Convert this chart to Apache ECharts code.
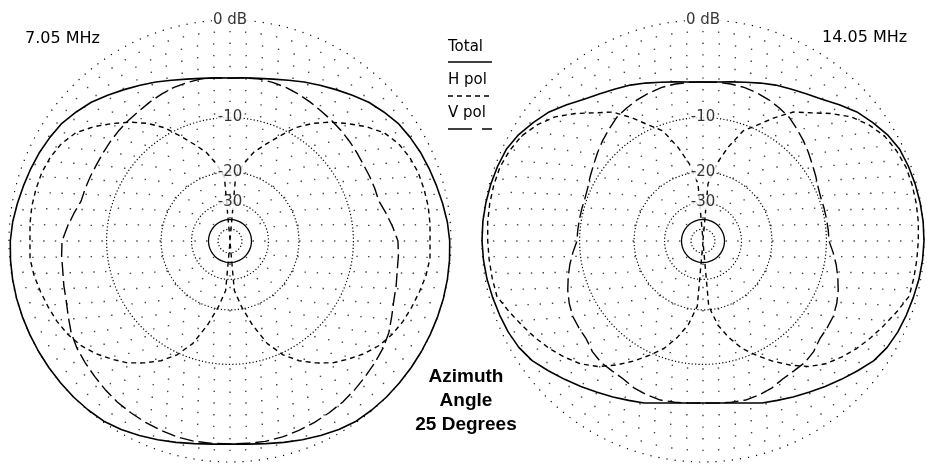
<!DOCTYPE html>
<html><head><meta charset="utf-8">
<script src="https://cdn.jsdelivr.net/npm/echarts@6/dist/echarts.min.js"></script>
<style>html,body{margin:0;padding:0;background:#fff}#c{width:927px;height:465px}</style>
</head><body><div id="c"></div>
<script>
// Azimuth angles (deg, clockwise from top) for the half pattern; pattern is left/right symmetric
const halfAngles = [0,5,10,15,20,25,30,35,40,45,50,55,60,65,70,75,80,85,90,95,100,105,110,115,120,125,130,135,140,145,150,155,160,165,170,175,180];

// 7.05 MHz (dB)
const total705 = [-5.22,-5.15,-5.0,-4.75,-4.4,-3.97,-3.54,-3.07,-2.56,-2.04,-1.65,-1.27,-1.06,-0.87,-0.72,-0.57,-0.4,-0.22,-0.1,-0.05,-0.02,0,0,0,0,0,0,0,-0.03,-0.08,-0.26,-0.51,-0.76,-1.0,-1.23,-1.38,-1.46];
const hpol705  = [-99,-21.2,-17.8,-15.06,-13.2,-11.19,-9.0,-7.41,-6.07,-4.9,-3.73,-2.73,-2.18,-1.87,-1.69,-1.64,-1.61,-1.65,-1.71,-1.65,-1.8,-2.05,-2.29,-2.53,-2.86,-3.32,-3.98,-4.8,-5.63,-6.8,-8.05,-9.7,-12.1,-16.0,-20.5,-25.6,-99];
const vpol705  = [-5.25,-5.15,-5.05,-5.1,-5.17,-5.32,-5.5,-5.68,-5.79,-5.9,-6.02,-6.13,-6.22,-6.22,-6.2,-6.18,-5.7,-5.2,-4.71,-4.6,-4.52,-4.3,-4.07,-3.67,-3.2,-2.88,-2.67,-2.46,-2.23,-2.01,-1.86,-1.7,-1.58,-1.47,-1.42,-1.45,-1.46];

// 14.05 MHz (dB)
const total1405 = [-5.65,-5.58,-5.38,-5.08,-4.7,-4.3,-3.95,-3.55,-3.05,-2.35,-1.64,-1.13,-0.65,-0.31,-0.19,-0.1,-0.04,0,0,-0.05,-0.13,-0.25,-0.36,-0.47,-0.66,-0.99,-1.55,-2.09,-2.59,-3.09,-3.51,-3.92,-4.26,-4.73,-5.07,-5.27,-5.33];
const hpol1405  = [-99,-23.1,-17.8,-14.1,-10.9,-9.4,-7.56,-5.82,-4.77,-3.49,-2.31,-1.5,-0.9,-0.59,-0.39,-0.35,-0.35,-0.38,-0.45,-0.5,-0.55,-0.6,-1.17,-1.74,-2.27,-2.82,-3.45,-4.14,-5.13,-6.49,-8.0,-9.64,-11.3,-13.6,-16.35,-20.9,-99];
const vpol1405  = [-5.65,-5.62,-5.6,-5.65,-5.8,-6.0,-6.28,-6.57,-7.1,-7.6,-8.13,-8.66,-9.09,-9.5,-9.71,-9.72,-9.72,-9.68,-9.64,-9.03,-8.43,-7.89,-7.36,-6.93,-6.6,-6.48,-6.38,-5.93,-5.7,-5.7,-5.61,-5.29,-5.14,-5.05,-5.15,-5.25,-5.33];

// grid rings (dB) and labels
const outerRing = [0];
const dottedRings = [-10,-20,-30,-50];
const solidRings = [-40];
const ringLabels = [[0,'0 dB'],[-10,'-10'],[-20,'-20'],[-30,'-30']];
const freqLabels = ['7.05 MHz','14.05 MHz'];
const legendNames = ['Total','H pol','V pol'];
const noteLines = ['Azimuth','Angle','25 Degrees'];

const PLOT_R = 221;          // px radius of the 0 dB ring
const AXIS_MAX = 1.05;       // a little headroom so the 0 dB trace is not clipped

// ARRL log scale: radius shrinks by 0.89 every 2 dB
function arrl(db){ return Math.pow(0.89, -db/2); }
function pattern(half){
  const out = [];
  for (let i = 0; i < halfAngles.length; i++) out.push([arrl(half[i]), halfAngles[i]]);
  for (let i = halfAngles.length - 2; i >= 0; i--) out.push([arrl(half[i]), 360 - halfAngles[i]]);
  return out;
}
function ring(db){
  const out = [];
  for (let a = 0; a <= 360; a += 1) out.push([arrl(db), a]);
  return out;
}
// background dot grid: equally spaced circles of dots, roughly constant dot spacing along each circle
function dotGrid(){
  const out = [];
  for (let k = 2; k < 19; k++) {
    const r = k / 19;
    const n = Math.max(4, Math.round(2 * Math.PI * r * PLOT_R / 16 / 4) * 4);
    for (let j = 0; j < n; j++) out.push([r, 360 * j / n]);
  }
  return out;
}

const FONT = 'DejaVu Sans';
const series = [];
[0,1].forEach(p => {
  series.push({type:'scatter', coordinateSystem:'polar', polarIndex:p, data:dotGrid(), symbol:'rect', symbolSize:1.4, silent:true, z:1,
    itemStyle:{color:'#111'}});
  outerRing.forEach(db => series.push({type:'line', coordinateSystem:'polar', polarIndex:p, data:ring(db), symbol:'none', silent:true, z:1,
    lineStyle:{color:'#000', width:1.2, type:[1.2,7]}}));
  dottedRings.forEach(db => series.push({type:'line', coordinateSystem:'polar', polarIndex:p, data:ring(db), symbol:'none', silent:true, z:1,
    lineStyle:{color:'#000', width:1.2, type:[1.2,2.2]}}));
  solidRings.forEach(db => series.push({type:'line', coordinateSystem:'polar', polarIndex:p, data:ring(db), symbol:'none', silent:true, z:2,
    lineStyle:{color:'#000', width:1.3, type:'solid'}}));
  series.push({type:'scatter', coordinateSystem:'polar', polarIndex:p, symbolSize:0, z:5, silent:true,
    data: ringLabels.map(r => ({value:[arrl(r[0]), 0], name:r[1]})),
    label:{show:true, position:'inside', formatter: d => d.name, color:'#000', fontFamily:FONT, fontSize:15,
      backgroundColor:'#fff', padding:[0,1]}});
});
const sets = [[total705,hpol705,vpol705],[total1405,hpol1405,vpol1405]];
sets.forEach((s, p) => {
  series.push({type:'line', coordinateSystem:'polar', polarIndex:p, data:pattern(s[0]), symbol:'none', z:4, clip:false,
    lineStyle:{color:'#000', width:1.6, type:'solid'}});
  series.push({type:'line', coordinateSystem:'polar', polarIndex:p, data:pattern(s[1]), symbol:'none', z:4, clip:false,
    lineStyle:{color:'#000', width:1.4, type:[5,4]}});
  series.push({type:'line', coordinateSystem:'polar', polarIndex:p, data:pattern(s[2]), symbol:'none', z:4, clip:false,
    lineStyle:{color:'#000', width:1.4, type:[14,5]}});
});

const angleAxisBase = {type:'value', min:0, max:360, interval:10, startAngle:90, clockwise:true,
  axisLine:{show:false}, axisTick:{show:false}, axisLabel:{show:false}, splitLine:{show:false}};
const radiusAxisBase = {type:'value', min:0, max:AXIS_MAX, axisLine:{show:false}, axisTick:{show:false}, axisLabel:{show:false}, splitLine:{show:false}};

const chart = echarts.init(document.getElementById('c'));
chart.setOption({
  animation:false,
  backgroundColor:'#fff',
  polar:[{center:[230,241], radius:PLOT_R*AXIS_MAX},{center:[703,241], radius:PLOT_R*AXIS_MAX}],
  angleAxis:[Object.assign({polarIndex:0}, angleAxisBase), Object.assign({polarIndex:1}, angleAxisBase)],
  radiusAxis:[Object.assign({polarIndex:0}, radiusAxisBase), Object.assign({polarIndex:1}, radiusAxisBase)],
  series: series,
  graphic:[
    {type:'text', left:25, top:31, style:{text:freqLabels[0], font:'16px "DejaVu Sans"', fill:'#000'}},
    {type:'text', left:822, top:30, style:{text:freqLabels[1], font:'16px "DejaVu Sans"', fill:'#000'}},
    {type:'text', left:448, top:40, style:{text:legendNames[0], font:'15px "DejaVu Sans"', fill:'#000'}},
    {type:'line', shape:{x1:448,y1:62,x2:492,y2:62}, style:{stroke:'#000', lineWidth:1.5}},
    {type:'text', left:448, top:73, style:{text:legendNames[1], font:'15px "DejaVu Sans"', fill:'#000'}},
    {type:'line', shape:{x1:448,y1:96,x2:492,y2:96}, style:{stroke:'#000', lineWidth:1.5, lineDash:[5,4]}},
    {type:'text', left:448, top:106, style:{text:legendNames[2], font:'15px "DejaVu Sans"', fill:'#000'}},
    {type:'line', shape:{x1:448,y1:129,x2:492,y2:129}, style:{stroke:'#000', lineWidth:1.5, lineDash:[24,10]}},
    {type:'text', x:466, y:377, style:{text:noteLines[0], font:'bold 19px "Liberation Sans"', fill:'#000', align:'center', verticalAlign:'middle'}},
    {type:'text', x:466, y:401, style:{text:noteLines[1], font:'bold 19px "Liberation Sans"', fill:'#000', align:'center', verticalAlign:'middle'}},
    {type:'text', x:466, y:425, style:{text:noteLines[2], font:'bold 19px "Liberation Sans"', fill:'#000', align:'center', verticalAlign:'middle'}}
  ]
});
</script></body></html>
